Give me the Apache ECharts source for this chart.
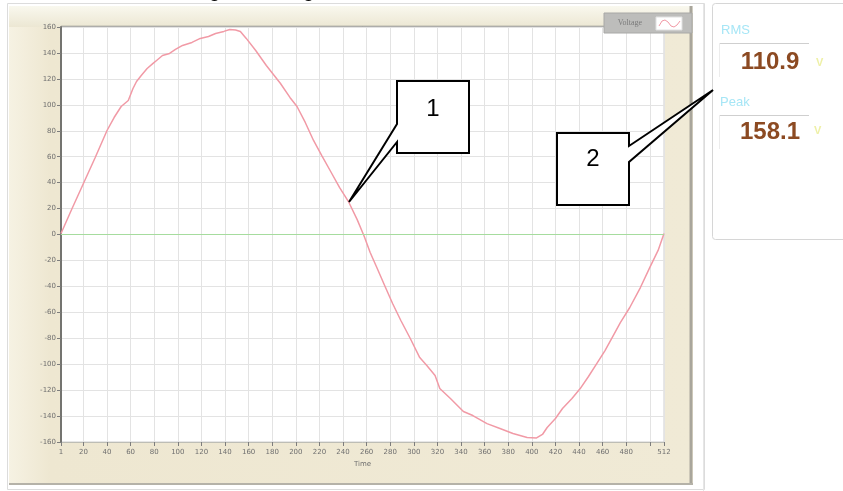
<!DOCTYPE html>
<html>
<head>
<meta charset="utf-8">
<script src="https://cdn.jsdelivr.net/npm/echarts@6/dist/echarts.min.js"></script>
<style>
  html, body { margin: 0; padding: 0; background: #fff; }
  #chart { width: 843px; height: 491px; }
</style>
</head>
<body>
<div id="chart"></div>
<script>
// Sampled voltage waveform: sample index (1..512) and instantaneous voltage
const sampleIdx = [1, 10, 20, 30, 40, 46, 52, 58, 62, 65, 69, 74, 79, 82, 87, 93, 98, 104, 112, 119,
  126, 132, 139, 144, 149, 153, 158, 166, 175, 187, 195, 201, 208, 215, 222, 230, 237, 245, 252, 258,
  263, 269, 276, 282, 289, 297, 305, 311, 318, 322, 331, 342, 350, 362, 373, 384, 396, 404, 409, 413,
  420, 426, 434, 441, 448, 455, 462, 469, 475, 483, 492, 500, 507, 512];
const voltage = [0.8, 19.3, 39.3, 59.4, 80.2, 90.2, 98.7, 103.3, 112.6, 118.0, 122.6, 128.0, 131.9, 134.2, 138.0,
  139.6, 142.7, 145.8, 148.1, 151.2, 152.7, 155.0, 156.6, 158.1, 157.7, 156.6, 151.2, 141.9, 130.3, 116.4,
  105.7, 98.7, 86.4, 72.5, 60.9, 47.8, 36.3, 24.7, 11.5, -1.5, -13.9, -26.2, -40.9, -53.2, -66.3,
  -80.2, -94.9, -101.0, -108.7, -118.8, -126.5, -136.5, -139.6, -145.8, -149.6, -153.5, -156.6, -156.9, -154.2, -148.8,
  -141.9, -134.2, -126.5, -118.8, -109.5, -99.5, -89.5, -77.9, -67.9, -56.3, -40.9, -25.4, -12.3, 0.8];

// Axis ticks and labels
const xTicks = [1, 20, 40, 60, 80, 100, 120, 140, 160, 180, 200, 220, 240, 260, 280, 300,
  320, 340, 360, 380, 400, 420, 440, 460, 480, 500, 512];
const xLabels = [1, 20, 40, 60, 80, 100, 120, 140, 160, 180, 200, 220, 240, 260, 280, 300,
  320, 340, 360, 380, 400, 420, 440, 460, 480, 512];
const yMin = -160, yMax = 160, yStep = 20;

// Readout panel
const seriesName = 'Voltage';
const xName = 'Time';
const readoutNames = ['RMS', 'Peak'];
const readoutValues = ['110.9', '158.1'];
const readoutUnit = 'V';
const calloutLabels = ['1', '2'];

const chart = echarts.init(document.getElementById('chart'), null, { renderer: 'canvas' });

const points = sampleIdx.map((s, i) => [s, voltage[i]]);

const PL = 61, PT = 27, PR = 664, PB = 442;

const bg = [
  // outer window frame
  { type: 'rect', z: -30, shape: { x: 7.5, y: 3.5, width: 697, height: 486 }, style: { fill: '#fff', stroke: '#dcdcdc', lineWidth: 1 } },
  // beige instrument panel
  { type: 'rect', z: -25, shape: { x: 9, y: 6, width: 684, height: 479 },
    style: { fill: new echarts.graphic.LinearGradient(0, 0, 1, 0, [
      { offset: 0, color: '#f6f2e3' }, { offset: 0.06, color: '#eee7d1' }, { offset: 1, color: '#f0ead6' }]) } },
  { type: 'rect', z: -24, shape: { x: 9, y: 6, width: 684, height: 21 },
    style: { fill: new echarts.graphic.LinearGradient(0, 0, 0, 1, [
      { offset: 0, color: '#f9f8ee' }, { offset: 1, color: '#ece7d3' }]) } },
  // panel shadow edges
  { type: 'line', z: -20, shape: { x1: 691, y1: 6, x2: 691, y2: 485 }, style: { stroke: '#a9a69c', lineWidth: 3 } },
  { type: 'line', z: -20, shape: { x1: 9, y1: 484, x2: 693, y2: 484 }, style: { stroke: '#b5b2a8', lineWidth: 2 } },
  // plot area top edge
  { type: 'line', z: -5, shape: { x1: PL, y1: PT - 0.5, x2: PR, y2: PT - 0.5 }, style: { stroke: '#8c8c86', lineWidth: 1.5 } },
  // right side separator
  { type: 'line', z: -20, shape: { x1: 703.5, y1: 4, x2: 703.5, y2: 491 }, style: { stroke: '#e6e6e6', lineWidth: 1 } }
];

const legendParts = [
  { type: 'rect', z: 20, shape: { x: 604, y: 13, width: 88, height: 20 }, style: { fill: '#bdbdbb', stroke: '#a8a8a6', lineWidth: 1 } },
  { type: 'text', z: 21, x: 630, y: 23, style: { text: seriesName, fill: '#7a7a7a', font: '8px "Liberation Serif", serif',
      align: 'center', verticalAlign: 'middle', textAlign: 'center', textVerticalAlign: 'middle' } },
  { type: 'rect', z: 21, shape: { x: 656, y: 17, width: 26, height: 13 }, style: { fill: '#ffffff', stroke: '#e0e0e0', lineWidth: 1 } },
  { type: 'polyline', z: 22, shape: { points: [[659, 26], [662, 21], [665, 20], [668, 22], [671, 26], [674, 27], [677, 25], [680, 21]] },
    style: { stroke: '#f19aa6', lineWidth: 1, fill: null } }
];

const readoutFont = 'bold 24px "Liberation Sans", Arial, sans-serif';
const nameFont = '13px "Liberation Sans", Arial, sans-serif';
const unitFont = 'bold 11px "Liberation Sans", Arial, sans-serif';
const readout = [
  { type: 'rect', z: 10, shape: { x: 712.5, y: 3.5, width: 140, height: 236, r: 3 }, style: { fill: '#fff', stroke: '#d6d6d6', lineWidth: 1 } },
  { type: 'text', z: 11, x: 721, y: 30, style: { text: readoutNames[0], fill: '#a6e6f6', font: nameFont,
      verticalAlign: 'middle', textVerticalAlign: 'middle' } },
  { type: 'line', z: 11, shape: { x1: 719, y1: 43.5, x2: 809, y2: 43.5 }, style: { stroke: '#cfcfcf', lineWidth: 1 } },
  { type: 'line', z: 11, shape: { x1: 719.5, y1: 43, x2: 719.5, y2: 77 }, style: { stroke: '#ececec', lineWidth: 1 } },
  { type: 'text', z: 11, x: 770, y: 62, style: { text: readoutValues[0], fill: '#8c4a22', font: readoutFont,
      align: 'center', verticalAlign: 'middle', textAlign: 'center', textVerticalAlign: 'middle' } },
  { type: 'text', z: 11, x: 816, y: 63, style: { text: readoutUnit, fill: '#eef0a6', font: unitFont,
      verticalAlign: 'middle', textVerticalAlign: 'middle' } },
  { type: 'text', z: 11, x: 720, y: 102, style: { text: readoutNames[1], fill: '#a6e6f6', font: nameFont,
      verticalAlign: 'middle', textVerticalAlign: 'middle' } },
  { type: 'line', z: 11, shape: { x1: 719, y1: 115.5, x2: 809, y2: 115.5 }, style: { stroke: '#cfcfcf', lineWidth: 1 } },
  { type: 'line', z: 11, shape: { x1: 719.5, y1: 115, x2: 719.5, y2: 149 }, style: { stroke: '#ececec', lineWidth: 1 } },
  { type: 'text', z: 11, x: 770, y: 132, style: { text: readoutValues[1], fill: '#8c4a22', font: readoutFont,
      align: 'center', verticalAlign: 'middle', textAlign: 'center', textVerticalAlign: 'middle' } },
  { type: 'text', z: 11, x: 814, y: 131, style: { text: readoutUnit, fill: '#eef0a6', font: unitFont,
      verticalAlign: 'middle', textVerticalAlign: 'middle' } }
];

const calloutFont = '24px "Liberation Sans", Arial, sans-serif';
const callouts = [
  { type: 'polygon', z: 100, shape: { points: [[397, 81], [469, 81], [469, 153], [397, 153], [397, 142], [349, 202], [397, 124]] },
    style: { fill: '#fff', stroke: '#000', lineWidth: 2, lineJoin: 'miter' } },
  { type: 'text', z: 101, x: 433, y: 109, style: { text: calloutLabels[0], fill: '#000', font: calloutFont,
      align: 'center', verticalAlign: 'middle', textAlign: 'center', textVerticalAlign: 'middle' } },
  { type: 'polygon', z: 100, shape: { points: [[557, 133], [629, 133], [629, 146], [713, 90], [629, 162], [629, 205], [557, 205]] },
    style: { fill: '#fff', stroke: '#000', lineWidth: 2, lineJoin: 'miter' } },
  { type: 'text', z: 101, x: 593, y: 159, style: { text: calloutLabels[1], fill: '#000', font: calloutFont,
      align: 'center', verticalAlign: 'middle', textAlign: 'center', textVerticalAlign: 'middle' } }
];

// caption line above the frame, mostly outside the page
const captionFont = '20px "Liberation Sans", Arial, sans-serif';
const caption = [
  { type: 'text', z: 50, x: -4, y: -19, style: { text: 'y', fill: '#000', font: captionFont, verticalAlign: 'top', textVerticalAlign: 'top' } },
  { type: 'text', z: 50, x: 209, y: -19, style: { text: 'g', fill: '#000', font: captionFont, verticalAlign: 'top', textVerticalAlign: 'top' } },
  { type: 'text', z: 50, x: 303, y: -19, style: { text: 'g', fill: '#000', font: captionFont, verticalAlign: 'top', textVerticalAlign: 'top' } }
];

const axisFont = { fontSize: 7, color: '#6f6f6f', fontFamily: '"DejaVu Sans", sans-serif' };

chart.setOption({
  animation: false,
  backgroundColor: '#fff',
  grid: { left: PL, top: PT, right: 843 - PR, bottom: 491 - PB, show: true, backgroundColor: '#fff', borderColor: '#cfcfcf', borderWidth: 1 },
  xAxis: {
    type: 'value', min: 1, max: 512,
    name: xName, nameLocation: 'middle', nameGap: 17,
    nameTextStyle: axisFont,
    axisLine: { show: true, onZero: false, lineStyle: { color: '#bdbdb5', width: 1 } },
    axisTick: { show: true, customValues: xTicks, length: 4, lineStyle: { color: '#7d7d7d' } },
    axisLabel: Object.assign({ customValues: xLabels, margin: 7 }, axisFont),
    splitLine: { show: true, lineStyle: { color: '#e3e3e3', width: 1 } }
  },
  yAxis: {
    type: 'value', min: yMin, max: yMax, interval: yStep,
    axisLine: { show: true, lineStyle: { color: '#747470', width: 2 } },
    axisTick: { show: true, length: 4, lineStyle: { color: '#7d7d7d' } },
    axisLabel: Object.assign({ margin: 5 }, axisFont),
    splitLine: { show: true, lineStyle: { color: '#e3e3e3', width: 1 } }
  },
  series: [{
    name: seriesName,
    type: 'line',
    data: points,
    symbol: 'none',
    showSymbol: false,
    lineStyle: { color: '#f19aa6', width: 1.5 },
    z: 3,
    markLine: {
      silent: true, symbol: 'none', label: { show: false },
      lineStyle: { color: '#a6dc9e', type: 'solid', width: 1 },
      data: [{ yAxis: 0 }]
    }
  }],
  graphic: { elements: bg.concat(legendParts, readout, callouts, caption) }
});
</script>
</body>
</html>
